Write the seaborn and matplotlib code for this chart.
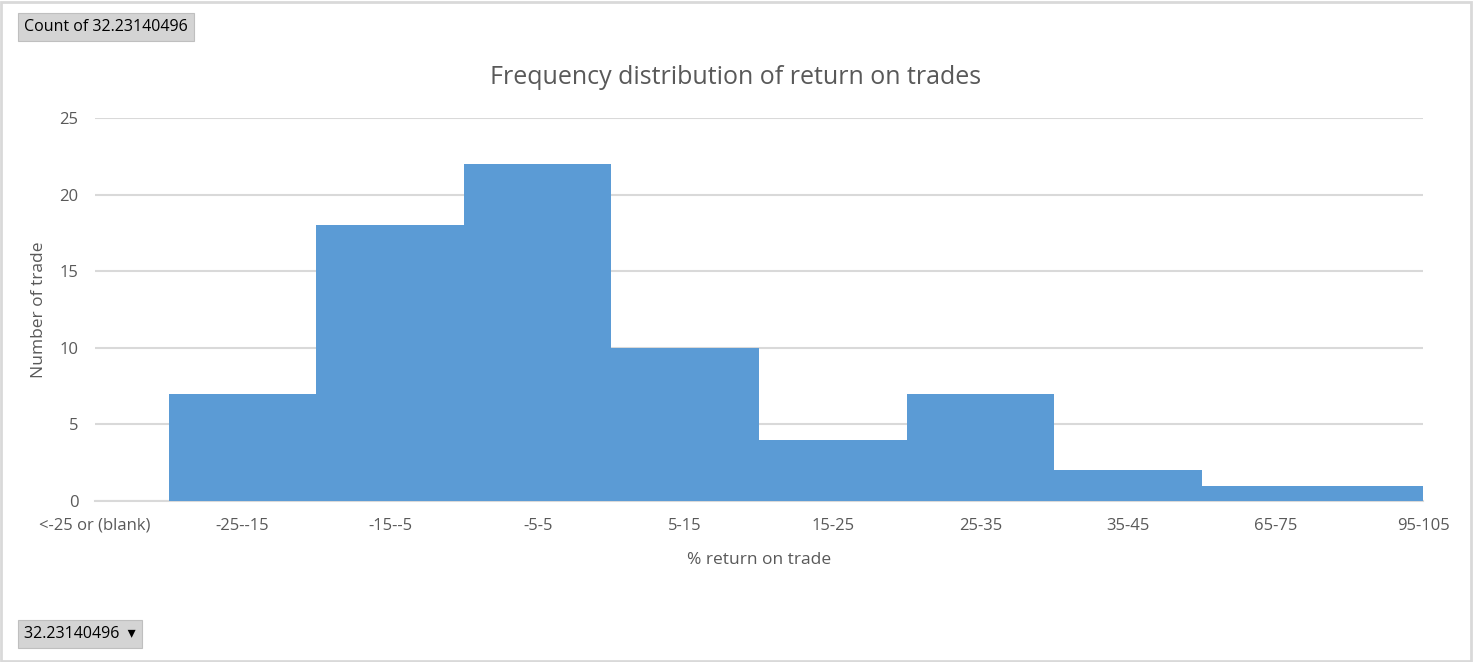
import matplotlib
matplotlib.use('Agg')
import matplotlib.pyplot as plt
import pandas as pd
import seaborn as sns
from matplotlib.patches import Rectangle

# Pivot chart data: count of trades per return bucket
categories = ['<-25 or (blank)', '-25--15', '-15--5', '-5-5', '5-15', '15-25',
              '25-35', '35-45', '65-75', '95-105']
counts = [0, 7, 18, 22, 10, 4, 7, 2, 1, 1]

title = 'Frequency distribution of return on trades'
x_label = '% return on trade'
y_label = 'Number of trade'
y_ticks = [0, 5, 10, 15, 20, 25]

bar_color = '#5B9BD5'
text_color = '#595959'
grid_color = '#D9D9D9'

sns.set_style('white')
plt.rcParams['font.family'] = ['Open Sans', 'DejaVu Sans']

df = pd.DataFrame({'bucket': categories, 'count': counts})

fig = plt.figure(figsize=(14.74, 6.62), dpi=100)
ax = fig.add_axes([95 / 1474, 161 / 662, 1328 / 1474, 383 / 662])

sns.barplot(data=df, x='bucket', y='count', color=bar_color, width=1.0,
            saturation=1, linewidth=0, ax=ax, zorder=3)

# Excel-style axis: categories sit on the tick marks, so edge bars are clipped
ax.set_xlim(0, len(categories) - 1)
ax.set_ylim(0, 25)
ax.set_yticks(y_ticks)
ax.yaxis.grid(True, color=grid_color, linewidth=1.5, zorder=0)
ax.set_axisbelow(True)
for side in ['top', 'right', 'left']:
    ax.spines[side].set_visible(False)
ax.spines['bottom'].set_color(grid_color)
ax.spines['bottom'].set_linewidth(1.5)
ax.tick_params(axis='both', length=0, labelsize=12, colors=text_color)
ax.tick_params(axis='x', pad=12)
ax.tick_params(axis='y', pad=12)

ax.set_xlabel(x_label, fontsize=12.5, color=text_color, labelpad=13)
ax.set_ylabel(y_label, fontsize=12.5, color=text_color, labelpad=9)
fig.text(0.4993, 1 - 77 / 662, title, ha='center', va='center',
         fontsize=18, color=text_color)

# Pivot field buttons
btn_style = dict(boxstyle='square,pad=0.4', facecolor='#D4D4D4',
                 edgecolor='#BFBFBF', linewidth=0.8)
fig.text(24 / 1474, 1 - 27 / 662, 'Count of 32.23140496', ha='left', va='center',
         fontsize=11.5, color='#000000', bbox=btn_style)
fig.text(24 / 1474, 1 - 634 / 662, '32.23140496  \u25be', ha='left', va='center',
         fontsize=11.5, color='#000000', bbox=btn_style)

# Outer chart border
fig.patches.append(Rectangle((0.001, 0.002), 0.997, 0.995, transform=fig.transFigure,
                             fill=False, edgecolor='#D9D9D9', linewidth=2))

fig.savefig('out.png', dpi=100)
